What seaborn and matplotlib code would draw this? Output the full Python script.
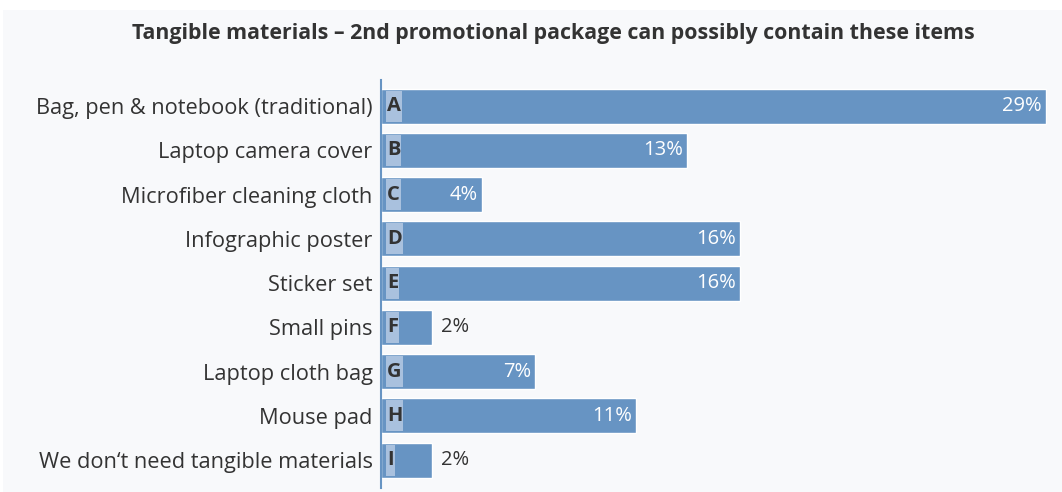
import seaborn as sns
import matplotlib.pyplot as plt
import pandas as pd
from matplotlib.patches import Rectangle

items = ['Bag, pen & notebook (traditional)', 'Laptop camera cover', 'Microfiber cleaning cloth',
         'Infographic poster', 'Sticker set', 'Small pins', 'Laptop cloth bag', 'Mouse pad',
         'We don\u2018t need tangible materials']
letters = ['A', 'B', 'C', 'D', 'E', 'F', 'G', 'H', 'I']
share = [28.9, 13.3, 4.4, 15.6, 15.6, 2.2, 6.7, 11.1, 2.2]

df = pd.DataFrame({'item': items, 'letter': letters, 'share': share})

sns.set_style('white')
plt.rcParams['font.family'] = ['Open Sans', 'DejaVu Sans']

bar_col = '#6794c3'
box_col = '#a9c1de'
txt_col = '#333333'

fig = plt.figure(figsize=(10.62, 4.92), dpi=100, facecolor='white')
fig.patches.append(Rectangle((3 / 1062, 0), 1, (492 - 10) / 492, transform=fig.transFigure,
                             facecolor='#f8f9fb', edgecolor='none', zorder=-10))
ax = fig.add_axes([381 / 1062, 4 / 492, 666 / 1062, 408 / 492])
ax.set_facecolor('none')

sns.barplot(data=df, x='share', y='item', orient='h', color=bar_col, width=0.79,
            saturation=1, ax=ax)
ax.set_xlim(0, 28.95)
ax.set_ylim(8.63, -0.59)

# letter tags at the start of each bar, box sized to the letter
renderer = fig.canvas.get_renderer()
px = 28.95 / 666  # data units per pixel
for y, l in enumerate(letters):
    t = ax.text(0, y, l, ha='center', va='center', fontsize=14.5, fontweight='bold',
                color=txt_col, zorder=4)
    w = t.get_window_extent(renderer).width * px + 2 * px
    x0 = 5 * px
    t.set_x(x0 + w / 2)
    ax.add_patch(Rectangle((x0, y - 0.35), w, 0.70, facecolor=box_col, edgecolor='none', zorder=3))

for y, v in enumerate(share):
    lab = f'{round(v)}%'
    if v > 3:
        ax.text(v - 0.18, y, lab, ha='right', va='center', fontsize=14.5, color='white', zorder=4)
    else:
        ax.text(v + 0.4, y, lab, ha='left', va='center', fontsize=14.5, color=txt_col, zorder=4)

ax.set_xlabel('')
ax.set_ylabel('')
ax.set_xticks([])
ax.tick_params(axis='y', length=0, pad=6, labelsize=15.7, labelcolor=txt_col)
for s in ['top', 'right', 'bottom']:
    ax.spines[s].set_visible(False)
ax.spines['left'].set_color(bar_col)
ax.spines['left'].set_linewidth(1.5)

fig.text(553 / 1062, 1 - 34 / 492, 'Tangible materials \u2013 2nd promotional package can possibly contain these items',
         ha='center', va='center', fontsize=15.4, fontweight='bold', color=txt_col)

fig.savefig('out.png', dpi=100, facecolor=fig.get_facecolor())
